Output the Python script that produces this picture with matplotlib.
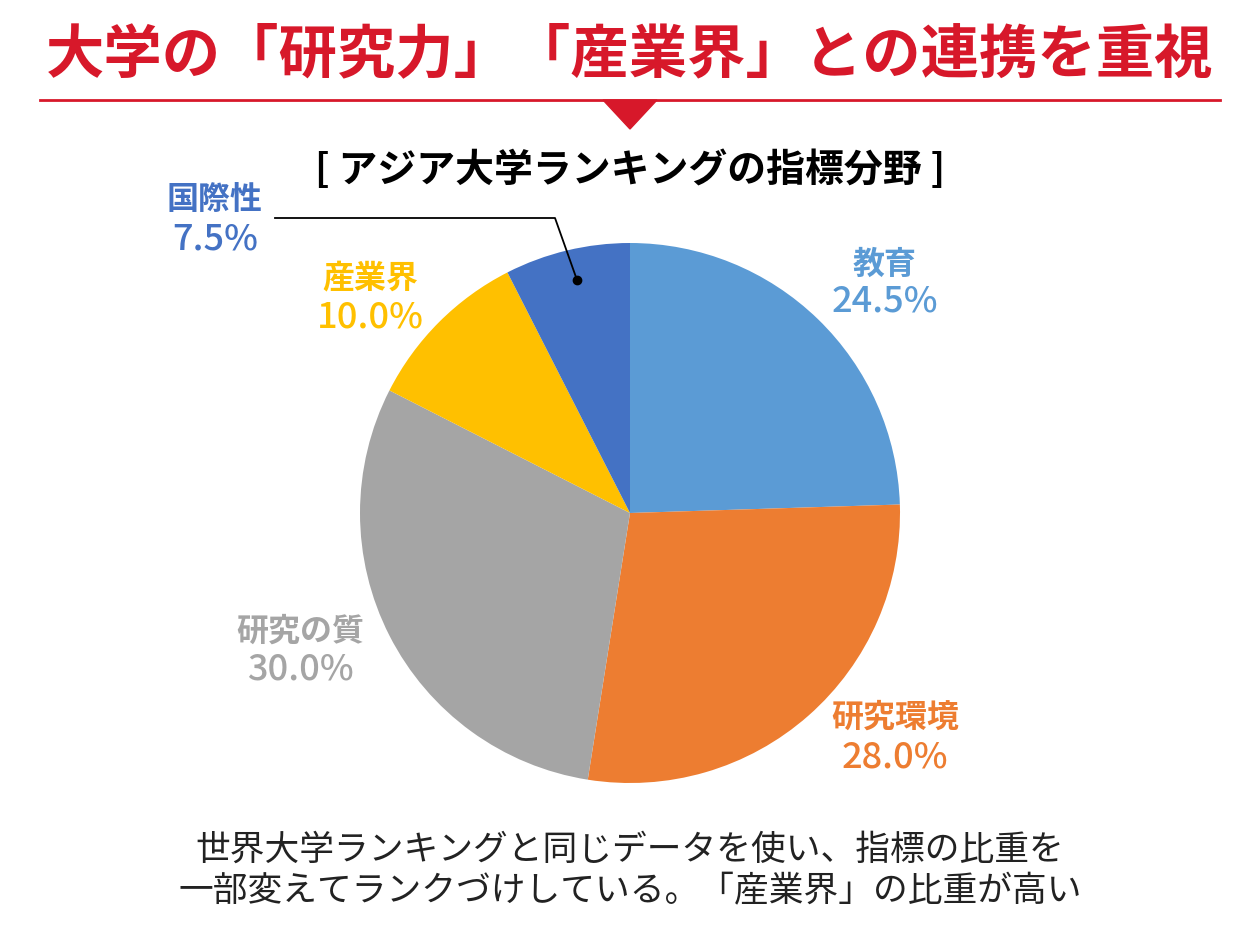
import matplotlib
matplotlib.use("Agg")
import matplotlib.pyplot as plt
from matplotlib.lines import Line2D
from matplotlib.patches import Polygon

plt.rcParams['font.family'] = ['Noto Sans CJK JP', 'DejaVu Sans']

categories = ["教育", "研究環境", "研究の質", "産業界", "国際性"]
values = [24.5, 28.0, 30.0, 10.0, 7.5]
colors = ["#5B9BD5", "#ED7D31", "#A5A5A5", "#FFC000", "#4472C4"]

W, H = 1260, 940
fig = plt.figure(figsize=(12.6, 9.4), dpi=100)

def fx(x): return x / W
def fy(y): return 1 - y / H

cx, cy, r = 630, 513, 270
ax = fig.add_axes([fx(cx - r), fy(cy + r), 2 * r / W, 2 * r / H])
ax.pie(values, colors=colors, startangle=90, counterclock=False,
       wedgeprops=dict(linewidth=0))
ax.set_xlim(-1, 1)
ax.set_ylim(-1, 1)
ax.set_aspect('equal')
ax.axis('off')

red = "#D7182A"
fig.text(fx(630), fy(55), "大学の「研究力」「産業界」との連携を重視", color=red,
         fontsize=42, fontweight='bold', ha='center', va='center')
fig.add_artist(Line2D([fx(40), fx(1220)], [fy(100), fy(100)], color=red, lw=2,
                      transform=fig.transFigure))
fig.add_artist(Polygon([[fx(603), fy(100)], [fx(657), fy(100)], [fx(630), fy(129)]],
                       closed=True, color=red, transform=fig.transFigure))
fig.text(fx(630), fy(170), "[ アジア大学ランキングの指標分野 ]", fontsize=28,
         fontweight='bold', ha='center', va='center')

label_pos = [(885, 265, 302), (895, 718, 757), (300, 632, 670), (370, 278, 318), (215, 200, 240)]
for cat, v, c, (x, y1, y2) in zip(categories, values, colors, label_pos):
    fig.text(fx(x), fy(y1), cat, color=c, fontsize=23, fontweight='bold', ha='center', va='center')
    fig.text(fx(x), fy(y2), f"{v:.1f}%", color=c, fontsize=26, fontweight='medium',
             ha='center', va='center')

fig.add_artist(Line2D([fx(275), fx(555), fx(577)], [fy(218), fy(218), fy(280)],
                      color='black', lw=1.3, transform=fig.transFigure))
fig.add_artist(Line2D([fx(577)], [fy(280)], marker='o', markersize=6, color='black',
                      transform=fig.transFigure))

fig.text(fx(630), fy(850), "世界大学ランキングと同じデータを使い、指標の比重を", fontsize=25,
         ha='center', va='center', color='#222222')
fig.text(fx(630), fy(892), "一部変えてランクづけしている。「産業界」の比重が高い", fontsize=25,
         ha='center', va='center', color='#222222')

fig.savefig("out.png", dpi=100)
